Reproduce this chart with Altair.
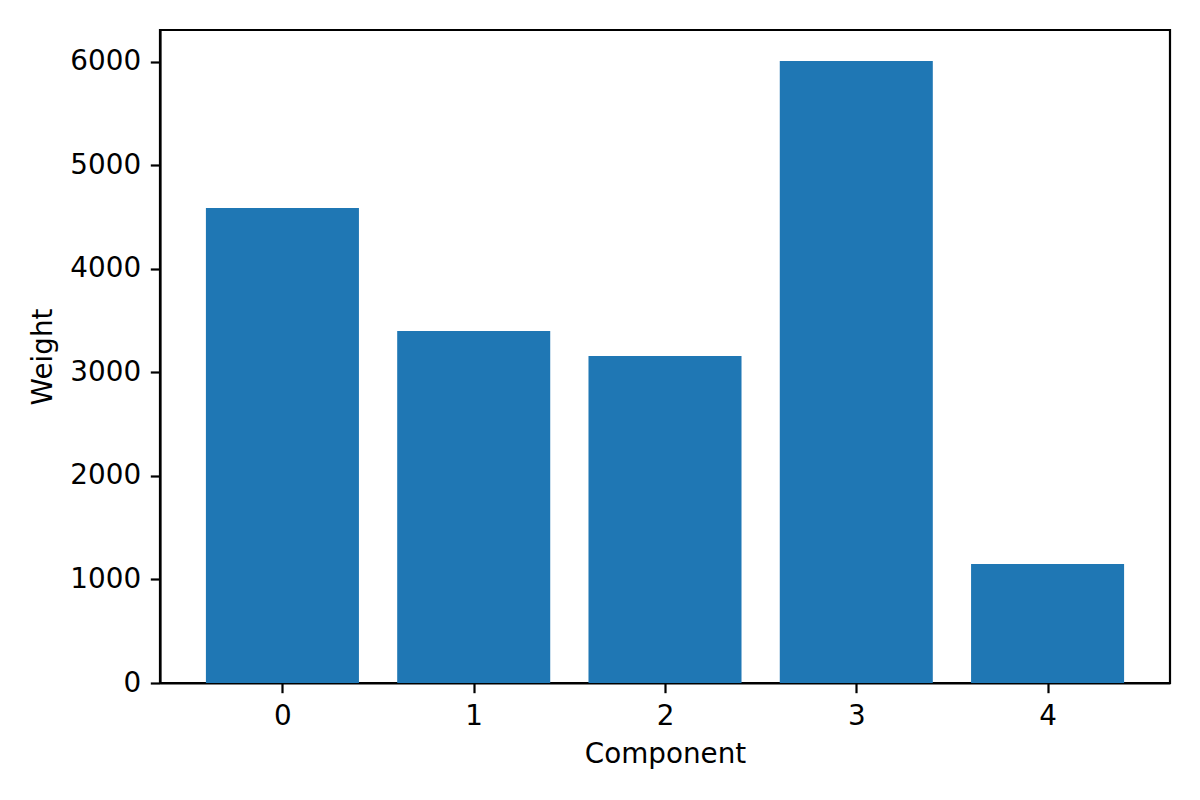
import altair as alt
import pandas as pd

components = [0, 1, 2, 3, 4]
weights = [4589, 3401, 3159, 6010, 1150]

df = pd.DataFrame({"component": components, "weight": weights})
df["x0"] = df["component"] - 0.4
df["x1"] = df["component"] + 0.4

FONT = "DejaVu Sans"
FS = 27.8

chart = alt.Chart(df).mark_rect(color="#1f77b4").encode(
    x=alt.X("x0:Q", title="Component",
            scale=alt.Scale(domain=[-0.64, 4.64], nice=False, zero=False),
            axis=alt.Axis(values=components, format="d", grid=False,
                          tickSize=9.7, tickWidth=2.2, tickColor="black",
                          domainColor="black", domainWidth=2.2,
                          labelPadding=9.7, labelFontSize=FS, labelFont=FONT,
                          labelColor="black", titleFontSize=FS, titleFont=FONT,
                          titleFontWeight="normal", titleColor="black",
                          titlePadding=10, labelFlush=False)),
    x2="x1:Q",
    y=alt.Y("weight:Q", title="Weight",
            scale=alt.Scale(domain=[0, 6309], nice=False),
            axis=alt.Axis(values=[0, 1000, 2000, 3000, 4000, 5000, 6000], grid=False,
                          format="d",
                          tickSize=9.7, tickWidth=2.2, tickColor="black",
                          domainColor="black", domainWidth=2.2,
                          labelPadding=9.7, labelFontSize=FS, labelFont=FONT,
                          labelColor="black", titleFontSize=FS, titleFont=FONT,
                          titleFontWeight="normal", titleColor="black",
                          titlePadding=12, labelFlush=False)),
    y2=alt.value(653),
).properties(
    width=1010, height=653,
    autosize=alt.AutoSizeParams(type="none"),
    padding={"left": 152, "top": 22, "right": 22, "bottom": 100},
    background="white",
).configure_view(stroke="black", strokeWidth=2.2)

chart.save("out.html", embed_options={"renderer": "svg", "actions": False})
